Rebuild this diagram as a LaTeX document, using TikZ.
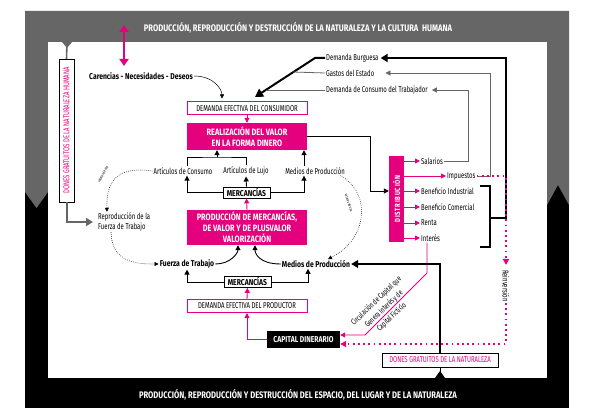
\documentclass[tikz,border=0pt]{standalone}
\usepackage{fontspec}
\setmainfont{Fira Sans}[FakeStretch=0.7,BoldFeatures={FakeStretch=0.8}]
\usepackage{tikz}
\usetikzlibrary{arrows.meta,positioning,calc}
\definecolor{mag}{HTML}{E5007E}
\definecolor{slate}{HTML}{666666}
\colorlet{ink}{black}

\begin{document}
\begin{tikzpicture}[x=1pt,y=-1pt,font=\fontsize{8.5}{9.5}\selectfont,
    lab/.style={inner sep=1pt},
    bl/.style={inner sep=1pt,font=\fontsize{8.5}{9.5}\selectfont\bfseries},
    banner/.style={text=white,font=\fontsize{9.5}{11}\selectfont\bfseries},
    magbox/.style={fill=mag,text=white,align=center,inner sep=1pt,minimum width=120pt,
                   font=\fontsize{9.2}{11}\selectfont\bfseries},
    linebox/.style={draw=mag,fill=white,line width=1pt,minimum width=120pt,minimum height=13pt,inner sep=1pt},
    mercbox/.style={draw=ink,fill=white,line width=0.8pt,minimum width=47pt,minimum height=11pt,
                    inner sep=1pt,font=\fontsize{8.5}{9.5}\selectfont\bfseries},
    tiny/.style={inner sep=0pt,font=\fontsize{4}{4.5}\selectfont},
    wire/.style={ink,line width=0.9pt,-{Triangle[length=5pt,width=5pt]}},
    magwire/.style={mag,line width=0.9pt,-{Triangle[length=5pt,width=5pt]}},
    greywire/.style={slate,line width=0.8pt,-{Triangle[length=5pt,width=5pt]}},
    dotline/.style={ink,line width=0.6pt,dash pattern=on 0.6pt off 1.4pt,-{Triangle[length=4pt,width=4pt]}},
    magdots/.style={mag,line width=1.8pt,dash pattern=on 1.8pt off 3.4pt,-{Triangle[length=6pt,width=6pt]}}]
  \useasboundingbox (0,0) rectangle (595,420);
  % frame
  \fill[ink] (25,11) rectangle (569,408);
  \fill[slate] (25,11) -- (569,11) -- (569,205) -- (558,185) -- (547,205) -- (547,42)
    -- (48,42) -- (48,192) -- (36.5,208) -- (25,192) -- cycle;
  \fill[white] (48,42) rectangle (547,378);
  \node[banner] (ttop) at (298,28) {PRODUCCIÓN, REPRODUCCIÓN Y DESTRUCCIÓN DE LA NATURALEZA Y LA CULTURA\ \ HUMANA};
  \node[banner] (tbot) at (298,395) {PRODUCCIÓN, REPRODUCCIÓN Y DESTRUCCIÓN DEL ESPACIO, DEL LUGAR Y DE LA NATURALEZA};

  \node[draw=ink,fill=white,rotate=90,text=mag,inner sep=1pt,minimum width=143pt,minimum height=15pt]
    (donesh) at (66.5,130.5) {DONES GRATUITOS DE LA NATURALEZA HUMANA};
  \node[draw=ink,fill=white,text=mag,inner sep=1pt,minimum width=116pt,minimum height=14pt]
    (donesn) at (440,360) {DONES GRATUITOS DE LA NATURALEZA};

  \node[bl,anchor=west] (caren) at (88,76) {Carencias - Necesidades - Deseos};
  \node[lab,anchor=west] (dburg) at (325,58) {Demanda Burguesa};
  \node[lab,anchor=west] (dgast) at (325,73) {Gastos del Estado};
  \node[lab,anchor=west] (dtrab) at (325,90) {Demanda de Consumo del Trabajador};

  \node[linebox] (dcons) at (247,108.5) {DEMANDA EFECTIVA DEL CONSUMIDOR};
  \node[magbox,minimum height=27pt] (realiz) at (247,136.5) {REALIZACIÓN DEL VALOR\\EN LA FORMA DINERO};
  \node[lab] (acons) at (183,171) {Artículos de Consumo};
  \node[lab] (alujo) at (246,171) {Artículos de Lujo};
  \node[lab] (mprod) at (315,171) {Medios de Producción};
  \node[mercbox] (merc) at (246.5,192.5) {MERCANCÍAS};
  \node[magbox,minimum height=35pt] (produc) at (247,227.5) {PRODUCCIÓN DE MERCANCÍAS,\\DE VALOR Y DE PLUSVALOR\\VALORIZACIÓN};
  \node[lab,anchor=west,align=left] (repro) at (97,222) {Reproducción de la\\Fuerza de Trabajo};
  \node[bl] (fuerza) at (187,264) {Fuerza de Trabajo};
  \node[bl] (medios) at (316,264) {Medios de Producción};
  \node[mercbox] (merc2) at (247.5,282) {MERCANCÍAS};
  \node[linebox] (dprod) at (247,306) {DEMANDA EFECTIVA DEL PRODUCTOR};
  \node[fill=ink,text=white,inner sep=1pt,minimum width=73pt,minimum height=17pt,
        font=\fontsize{8.5}{9.5}\selectfont\bfseries] (capdin) at (303.5,339.5) {CAPITAL DINERARIO};

  \node[fill=mag,text=white,rotate=90,inner sep=1pt,minimum width=86pt,minimum height=15pt,
        font=\fontsize{7.5}{8}\selectfont\bfseries\addfontfeature{LetterSpace=10}] (distrib) at (396.5,199) {DISTRIBUCIÓN};
  \node[lab,anchor=west] (salar) at (420,161) {Salarios};
  \node[lab,anchor=west] (impu) at (446,176) {Impuestos};
  \node[lab,anchor=west] (bind) at (420,191) {Beneficio Industrial};
  \node[lab,anchor=west] (bcom) at (420,207) {Beneficio Comercial};
  \node[lab,anchor=west] (renta) at (420,223) {Renta};
  \node[lab,anchor=west] (inter) at (420,238) {Interés};
  \node[lab,rotate=-90] (reinv) at (506,286) {Reinversión};
  \node[lab,rotate=44,align=center,font=\fontsize{8}{11}\selectfont] (circ) at (384,309)
    {Circulación de Capital que\\Genera Interés y de\\Capital Ficticio};
  \node[tiny,rotate=62] (vuso) at (103,174) {valores de uso};
  \node[tiny,rotate=-72] (vuso2) at (349,203) {valores de uso};

  % connectors
  \coordinate (hum) at (124,25);
  \coordinate (car) at (124,66);
  \draw[mag,line width=2.2pt,{Triangle[length=7pt,width=9pt]}-{Triangle[length=7pt,width=9pt]}] (hum) -- (car);
  \coordinate (gstem) at (67,42);
  \fill[slate] (62,42) -- (67,48) -- (72,42) -- cycle;
  \draw[slate,line width=1.6pt] (gstem) -- (donesh.east);
  \draw[slate,line width=2pt,-{Triangle[length=7pt,width=8pt]},shorten >=4pt] (donesh.west) |- (repro.west);
  \draw[ink,line width=0.5pt,-{Triangle[length=4pt,width=4pt]},shorten >=3pt]
    (caren.east) .. controls +(20,0) and +(0,-12) .. ([xshift=-25pt]dcons.north);

  \coordinate (bk) at (315,58);
  \coordinate (bt) at (255,97);
  \coordinate (jg) at (293,72);
  \coordinate (jc) at (266,90);
  \draw[ink,line width=2pt,-{Triangle[length=8pt,width=9pt]}] (dburg.west) -- (bk) -- (bt);
  \draw[slate,line width=0.8pt] (dgast.west) -- (jg);
  \draw[slate,line width=0.8pt] (dtrab.west) -- (jc);

  \draw[magwire] (dcons.south) -- (realiz.north);
  \draw[wire] (realiz.east) -- ++(63,0) |- (distrib.north |- bind);
  \foreach \n in {salar,impu,bind,bcom,renta,inter}
    \draw[magwire] (distrib.south |- \n) -- (\n.west);
  \draw[greywire,shorten >=3pt] (salar.east) -- (468,161) |- (dtrab.east);
  \draw[greywire,shorten >=10pt] (impu.east) -- (490,176) |- (dgast.east);
  \draw[ink,line width=1.5pt] (480,186) -- (490,186) -- (490,247) -- (480,247);
  \coordinate (brk) at (490,218);
  \draw[ink,line width=2pt,-{Triangle[length=7pt,width=8pt]},shorten >=1pt] (brk) -- (506,218) |- (dburg.east);
  \draw[magdots,shorten >=4pt] (impu.east) -| (reinv.west);
  \draw[magdots] (reinv.east) |- ([yshift=-4.5pt]capdin.east);

  \coordinate (ia) at (427,273);
  \coordinate (ib) at (365,335);
  \draw[magwire] (ia |- inter.south) -- (ia) -- (ib) -- (ib -| capdin.east);
  \draw[magwire] (capdin.west) -| (dprod.south);
  \draw[magwire] (dprod.north) -- (merc2.south);
  \draw[wire] (merc2.west) -| (fuerza.south);
  \draw[wire] (merc2.east) -| ([xshift=-8pt]medios.south);
  \draw[wire] (fuerza.east) .. controls +(15,0) and +(0,8) .. ([xshift=-9pt]produc.south);
  \draw[wire] (medios.west) .. controls +(-22,0) and +(0,8) .. ([xshift=8pt]produc.south);
  \draw[magwire] (produc.north) -- (merc.south);
  \draw[wire] (merc.north) -- (alujo.south);
  \draw[wire] (merc.west) -| ([xshift=4pt]acons.south);
  \draw[wire] (merc.east) -| ([xshift=-11pt]mprod.south);
  \coordinate (cb) at (217,157);
  \draw[ink,line width=0.9pt] ([xshift=4pt]acons.north) |- (cb) -| (alujo.north);
  \draw[wire] (cb) -- (cb |- realiz.south);
  \draw[wire] ([xshift=-11pt]mprod.north) -- ([xshift=-11pt]mprod.north |- realiz.south);

  \draw[dotline] (acons.west) .. controls (118,166) and (106,180) .. ([xshift=10pt]repro.north west);
  \draw[dotline] ([xshift=14pt]repro.south west) .. controls (112,262) and (135,264) .. (fuerza.west);
  \draw[dotline] ([xshift=-6pt]mprod.south east) .. controls (370,190) and (370,238) .. ([xshift=12pt]medios.north);

  \coordinate (nstem) at (440,378);
  \fill[ink] (435,378) -- (440,371) -- (445,378) -- cycle;
  \draw[ink,line width=1pt] (nstem) -- (donesn.south);
  \draw[ink,line width=1.2pt,-{Triangle[length=7pt,width=8pt]}] (donesn.north) |- (medios.east);
\end{tikzpicture}
\end{document}
